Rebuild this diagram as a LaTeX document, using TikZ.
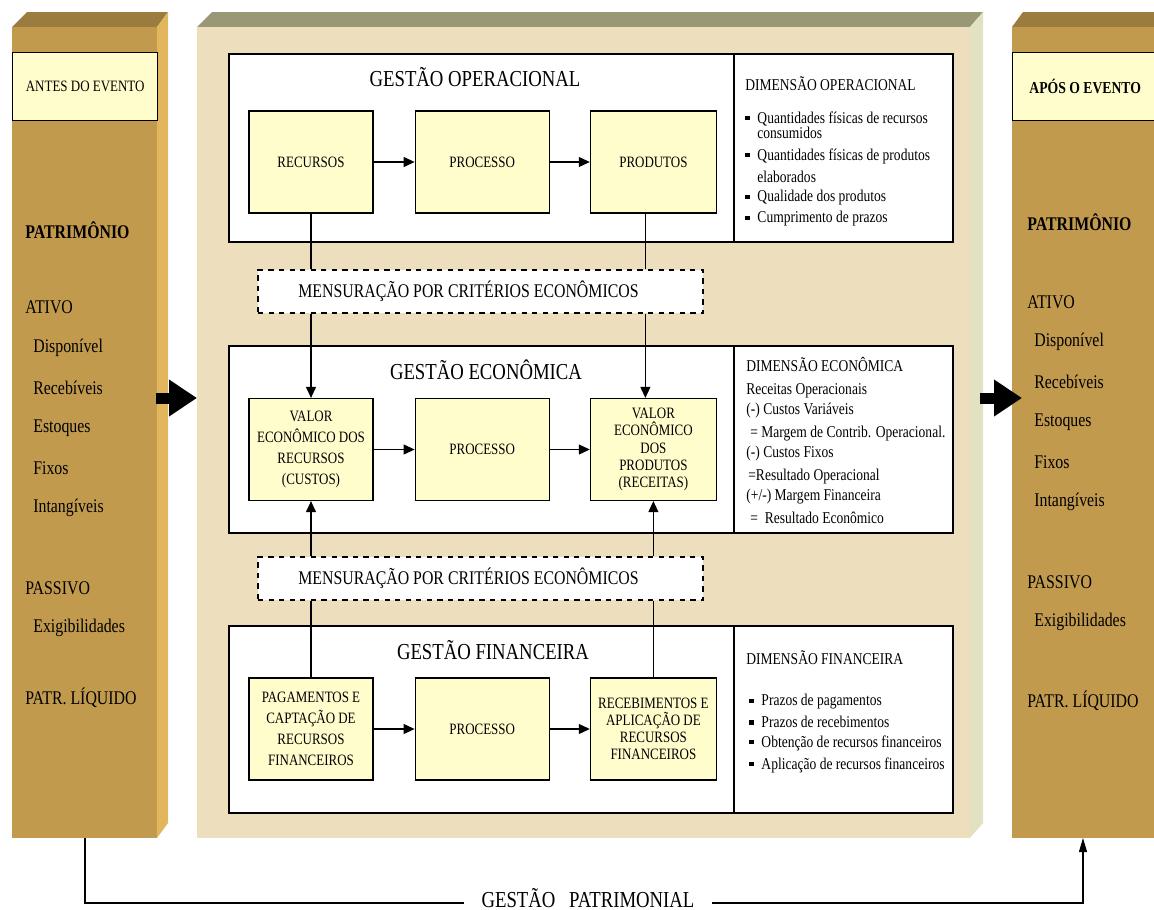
\documentclass[tikz,border=0pt]{standalone}
\usepackage{fontspec}
\setmainfont{Liberation Serif}[FakeStretch=0.82]
\usetikzlibrary{arrows.meta, positioning}

\definecolor{slabfront}{RGB}{194,154,78}
\definecolor{slabtop}{RGB}{156,123,62}
\definecolor{slabside}{RGB}{226,182,92}
\definecolor{parchment}{RGB}{237,222,190}
\definecolor{parchtop}{RGB}{152,152,118}
\definecolor{parchside}{RGB}{226,226,194}
\definecolor{paleyellow}{RGB}{255,253,204}

\newcommand{\bul}{\rule[0.4ex]{2.4pt}{2.4pt}\hspace{4.5pt}}

\tikzset{
  panel/.style={draw, fill=white, line width=1pt, minimum width=14.48cm, minimum height=3.75cm},
  procbox/.style={draw, fill=paleyellow, line width=0.7pt, minimum height=2.04cm, align=center, inner sep=1pt, font=\fontsize{9}{12}\selectfont},
  dashbox/.style={draw, dashed, fill=white, line width=0.8pt, minimum width=8.9cm, minimum height=0.86cm, font=\fontsize{11}{13}\selectfont},
  labelbox/.style={draw, fill=paleyellow, line width=0.8pt, minimum height=1.36cm, minimum width=2.9cm, anchor=north west, inner sep=0pt},
  title/.style={font=\fontsize{13}{15}\selectfont},
  dimtext/.style={anchor=west, inner sep=0pt, font=\fontsize{9.4}{11}\selectfont},
  coltext/.style={anchor=west, inner sep=0pt, font=\fontsize{11}{13}\selectfont},
  flow/.style={-{Triangle[length=0.22cm, width=0.2cm]}, line width=0.6pt},
  bigarrow/.style={line width=0.22cm, -{Triangle[length=0.56cm, width=0.7cm]}},
}

\begin{document}
\begin{tikzpicture}[x=0.02cm, y=-0.02cm]
\clip (0,0) rectangle (1154,910);

% the three blocks
\fill[slabtop] (12,27) -- (27,12) -- (168,12) -- (157,27) -- cycle;
\fill[slabside] (157,27) -- (168,12) -- (168,823) -- (157,838) -- cycle;
\fill[slabfront] (12,27) rectangle (157,838);
\fill[parchtop] (197,27) -- (212,12) -- (983,12) -- (970,27) -- cycle;
\fill[parchside] (970,27) -- (983,12) -- (983,823) -- (970,838) -- cycle;
\fill[parchment] (197,27) rectangle (970,838);
\fill[slabtop] (1012,27) -- (1023,12) -- (1160,12) -- (1160,27) -- cycle;
\fill[slabfront] (1012,27) rectangle (1160,838);

\node[labelbox, font=\fontsize{9}{11}\selectfont] (antes) at (12,52) {ANTES DO EVENTO};
\node[labelbox, font=\bfseries\fontsize{9.5}{11}\selectfont] (apos) at (1012,52) {APÓS O EVENTO};

\foreach \x/\y/\t in {25/230/\textbf{PATRIMÔNIO}, 25/307/ATIVO, 33/348/Disponível, 33/388/Recebíveis, 33/428/Estoques, 33/468/Fixos, 33/508/Intangíveis, 25/588/PASSIVO, 33/628/Exigibilidades, 25/698/PATR. LÍQUIDO}
  \node[coltext] (l\y) at (\x,\y) {\t};
\foreach \x/\y/\t in {1027/222/\textbf{PATRIMÔNIO}, 1027/302/ATIVO, 1034/342/Disponível, 1034/382/Recebíveis, 1034/422/Estoques, 1034/462/Fixos, 1034/502/Intangíveis, 1027/582/PASSIVO, 1034/622/Exigibilidades, 1027/701/PATR. LÍQUIDO}
  \node[coltext] (r\y) at (\x,\y) {\t};

% panels
\node[panel] (op) at (591,148) {};
\node[panel] (eco) at (591,439.5) {};
\node[panel] (fin) at (591,719.5) {};
\coordinate (div) at (734,0);
\foreach \p in {op,eco,fin}
  \draw[line width=0.6pt] (\p.north -| div) -- (\p.south -| div);

\node[title] (opt) at (475,77) {GESTÃO OPERACIONAL};
\node[title] (ecot) at (486,370) {GESTÃO ECONÔMICA};
\node[title] (fint) at (493,650) {GESTÃO FINANCEIRA};

% boxes
\node[procbox, minimum width=2.48cm] (rec) at (311,162) {RECURSOS};
\node[procbox, minimum width=2.68cm, right=0.82cm of rec] (proc1) {PROCESSO};
\node[procbox, minimum width=2.52cm, right=0.8cm of proc1] (prod) {PRODUTOS};

\node[procbox, minimum width=2.48cm] (vrec) at (311,449.5) {VALOR\\ECONÔMICO DOS\\RECURSOS\\(CUSTOS)};
\node[procbox, minimum width=2.68cm, right=0.82cm of vrec] (proc2) {PROCESSO};
\node[procbox, minimum width=2.52cm, right=0.8cm of proc2, font=\fontsize{9}{9.8}\selectfont] (vprod) {VALOR\\ECONÔMICO\\DOS\\PRODUTOS\\(RECEITAS)};

\node[procbox, minimum width=2.48cm] (pag) at (311,729) {PAGAMENTOS E\\CAPTAÇÃO DE\\RECURSOS\\FINANCEIROS};
\node[procbox, minimum width=2.68cm, right=0.82cm of pag] (proc3) {PROCESSO};
\node[procbox, minimum width=2.52cm, right=0.8cm of proc3, font=\fontsize{9}{9.8}\selectfont] (receb) {RECEBIMENTOS E\\APLICAÇÃO DE\\RECURSOS\\FINANCEIROS};

\draw[flow] (rec) -- (proc1);
\draw[flow] (proc1) -- (prod);
\draw[flow] (vrec) -- (proc2);
\draw[flow] (proc2) -- (vprod);
\draw[flow] (pag) -- (proc3);
\draw[flow] (proc3) -- (receb);

\node[dashbox] (mens1) at (480.5,291.5) {MENSURAÇÃO POR CRITÉRIOS ECONÔMICOS\kern0.48cm};
\node[dashbox] (mens2) at (480.5,578.5) {MENSURAÇÃO POR CRITÉRIOS ECONÔMICOS\kern0.48cm};

\coordinate (c1) at ([xshift=-0.16cm]prod.south);
\draw[line width=0.6pt] (rec.south) -- (rec.south |- mens1.north);
\draw[flow] (rec.south |- mens1.south) -- (vrec.north);
\draw[line width=0.6pt] (c1) -- (c1 |- mens1.north);
\draw[flow] (c1 |- mens1.south) -- (c1 |- vprod.north);
\draw[line width=0.6pt] (pag.north) -- (pag.north |- mens2.south);
\draw[flow] (pag.north |- mens2.north) -- (vrec.south);
\draw[line width=0.6pt] (receb.north) -- (receb.north |- mens2.south);
\draw[flow] (receb.north |- mens2.north) -- (vprod.south);

% before / after arrows
\coordinate (lout) at (156,398);
\coordinate (cin) at (197,398);
\coordinate (cout) at (980,398);
\coordinate (rin) at (1022,398);
\draw[bigarrow] (lout) -- (cin);
\draw[bigarrow] (cout) -- (rin);

% dimensions
\node[dimtext] (dop) at (745,84) {DIMENSÃO OPERACIONAL};
\foreach \y/\t in {119/Quantidades físicas de recursos, 156/Quantidades físicas de produtos, 198/Qualidade dos produtos, 219/Cumprimento de prazos}
  \node[dimtext] (dop\y) at (745,\y) {\bul\t};
\node[dimtext] (dop133) at (757,133) {consumidos};
\node[dimtext] (dop177) at (757,177) {elaborados};

\foreach \x/\y/\t in {746/364/DIMENSÃO ECONÔMICA, 746/391/Receitas Operacionais, 746/411/{(-) Custos Variáveis}, 750/434/{= Margem de Contrib. Operacional.}, 746/454/{(-) Custos Fixos}, 748/477/{=Resultado Operacional}, 746/497/{(+/-)\ Margem Financeira}, 750/518/{=\ \ Resultado Econômico}}
  \node[dimtext] (deco\y) at (\x,\y) {\t};

\node[dimtext] (dfin) at (746,658) {DIMENSÃO FINANCEIRA};
\foreach \y/\t in {702/Prazos de pagamentos, 722/Prazos de recebimentos, 743/Obtenção de recursos financeiros, 765/Aplicação de recursos financeiros}
  \node[dimtext] (dfin\y) at (749,\y) {\bul\t};

% patrimonial management
\coordinate (lbot) at (85,838);
\coordinate (rbot) at (1083,838);
\coordinate (base) at (0,903);
\node[font=\fontsize{13}{15}\selectfont, inner xsep=10pt, inner ysep=0pt] (gp) at (588,898) {GESTÃO\hspace{0.6em}PATRIMONIAL};
\draw[line width=0.6pt] (lbot) |- (gp.west |- base);
\draw[-{Triangle[length=0.28cm, width=0.16cm]}, line width=0.6pt] (gp.east |- base) -| (rbot);
\end{tikzpicture}
\end{document}
